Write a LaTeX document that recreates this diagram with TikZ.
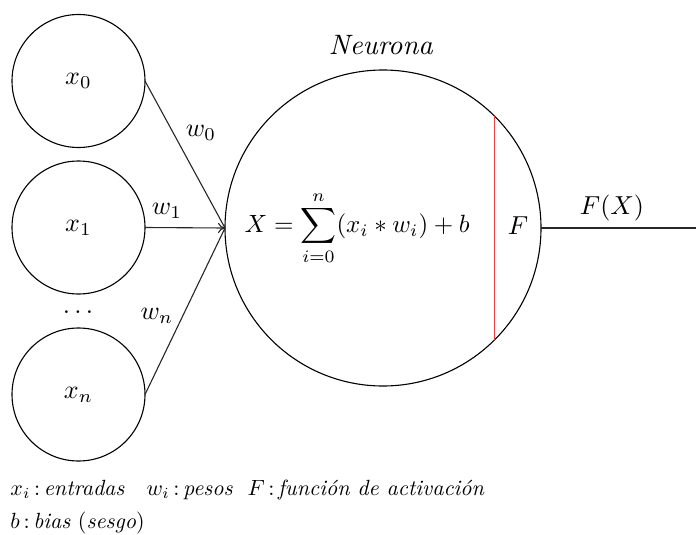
\documentclass[tikz,border=0pt]{standalone}
\usepackage{amsmath}
\usetikzlibrary{arrows.meta}
\begin{document}
\begin{tikzpicture}[x=1pt,y=-1pt,
  inp/.style={draw, circle, line width=1.1pt, minimum size=133pt, inner sep=0pt, outer sep=0pt},
  lbl/.style={inner sep=0pt, scale=2.6},
  leg/.style={inner sep=0pt, scale=2.2, anchor=base west},
  conn/.style={line width=1.1pt, draw=black!85}]
\useasboundingbox (0,0) rectangle (696,535);
\node[inp] (x0) at (78.5,81) {};
\node[inp] (x1) at (78.5,227.5) {};
\node[inp] (xn) at (78.5,394.5) {};
\node[lbl] (t0) at (x0) {$x_0$};
\node[lbl] (t1) at (x1) {$x_1$};
\node[lbl] (tn) at (xn) {$x_n$};
\node[draw, circle, line width=1.1pt, minimum size=316pt, inner sep=0pt, outer sep=0pt] (neu) at (383,228) {};
\coordinate (out) at (696,228);
\draw[conn] (x0.east) -- (neu.west);
\draw[conn, -{To[length=7pt,width=10pt]}] (x1.east) -- (neu.west);
\draw[conn] (xn.east) -- (neu.west);
\draw[conn] (neu.east) -- (out);
\draw[line width=1.1pt, draw={rgb,255:red,240;green,60;blue,60}] (neu.45) -- (neu.-45);
\node[lbl] (l0) at (201,133) {$w_0$};
\node[lbl] (l1) at (167,211) {$w_1$};
\node[lbl] (ln) at (157,316) {$w_n$};
\node[lbl] (dots) at (78,312) {$\ldots$};
\node[lbl, scale=1.08] (tit) at (381,45) {\textit{Neurona}};
\node[lbl, scale=0.96] (form) at (357,228) {$X=\displaystyle\sum_{i=0}^{n}(x_i * w_i)+b$};
\node[lbl] (fF) at (518,226) {$F$};
\node[lbl] (fX) at (612,208) {$F(X)$};
\node[leg] (leg1) at (10,495) {$x_i$\,:\,\textit{entradas}\quad $w_i$\,:\,\textit{pesos}\ \ $F$\,:\,\textit{función de activación}};
\node[leg] (leg2) at (10,528) {$b$\,:\,\textit{bias} (\textit{sesgo})};
\end{tikzpicture}
\end{document}
